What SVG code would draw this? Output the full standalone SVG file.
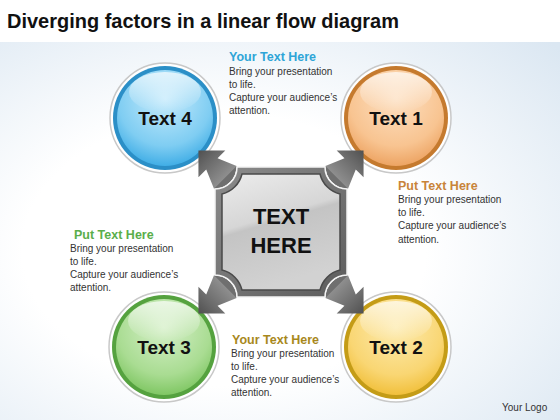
<svg xmlns="http://www.w3.org/2000/svg" width="560" height="420" viewBox="0 0 560 420">
<defs>
<radialGradient id="bg" cx="0.4" cy="0.55" r="0.8">
<stop offset="0.45" stop-color="#ffffff"/>
<stop offset="1" stop-color="#dbe7f2"/>
</radialGradient>
<linearGradient id="arrowG" x1="0" y1="0" x2="1" y2="0">
<stop offset="0" stop-color="#8e8e8e"/>
<stop offset="0.6" stop-color="#6a6a6a"/>
<stop offset="1" stop-color="#505050"/>
</linearGradient>
<linearGradient id="frameG" x1="0" y1="0" x2="1" y2="1">
<stop offset="0" stop-color="#8c8c8c"/>
<stop offset="1" stop-color="#5c5c5c"/>
</linearGradient>
<linearGradient id="panelG" x1="0" y1="0" x2="0.3" y2="1">
<stop offset="0" stop-color="#ececec"/>
<stop offset="0.45" stop-color="#d6d6d6"/>
<stop offset="0.5" stop-color="#c4c4c4"/>
<stop offset="1" stop-color="#d2d2d2"/>
</linearGradient>
<radialGradient id="blueG" cx="0.5" cy="0.3" r="0.7">
<stop offset="0" stop-color="#c6ebfc"/>
<stop offset="0.7" stop-color="#7fcdf2"/>
<stop offset="1" stop-color="#41aee6"/>
</radialGradient>
<radialGradient id="orangeG" cx="0.5" cy="0.3" r="0.7">
<stop offset="0" stop-color="#fde0c2"/>
<stop offset="0.7" stop-color="#f8c491"/>
<stop offset="1" stop-color="#eda463"/>
</radialGradient>
<radialGradient id="greenG" cx="0.5" cy="0.3" r="0.7">
<stop offset="0" stop-color="#d6f0c9"/>
<stop offset="0.7" stop-color="#a9dc92"/>
<stop offset="1" stop-color="#80c764"/>
</radialGradient>
<radialGradient id="yellowG" cx="0.5" cy="0.3" r="0.7">
<stop offset="0" stop-color="#fdebb0"/>
<stop offset="0.7" stop-color="#f9d673"/>
<stop offset="1" stop-color="#f1c03c"/>
</radialGradient>
<linearGradient id="gloss" x1="0" y1="0" x2="0" y2="1">
<stop offset="0" stop-color="#ffffff" stop-opacity="0.7"/>
<stop offset="1" stop-color="#ffffff" stop-opacity="0"/>
</linearGradient>
<g id="arrow">
<path d="M0,0 L-16,16 A22.6,22.6 0 0 1 -16,-16 Z" fill="#6f6f6f"/>
<polygon points="-16,-16 3,-8 3,-19 22,0 3,19 3,8 -16,16" fill="url(#arrowG)"/>
</g>
</defs>
<style>
.title{font-family:"Liberation Sans",Arial,sans-serif;font-weight:bold;font-size:21px;fill:#111}
.lbl{font-family:"Liberation Sans",Arial,sans-serif;font-weight:bold;font-size:19px;fill:#111;text-anchor:middle}
.big{font-family:"Liberation Sans",Arial,sans-serif;font-weight:bold;font-size:22px;fill:#111;text-anchor:middle}
.head{font-family:"Liberation Sans",Arial,sans-serif;font-weight:bold;font-size:12.5px}
.body{font-family:"Liberation Sans",Arial,sans-serif;font-size:10px;fill:#333}
.rim{fill:#ffffff;stroke:#c8c8c8;stroke-width:1.5}
</style>
<rect x="0" y="0" width="560" height="420" fill="#ffffff"/>
<rect x="0" y="42" width="560" height="378" fill="url(#bg)"/>
<text class="title" x="7" y="28" textLength="392" lengthAdjust="spacingAndGlyphs">Diverging factors in a linear flow diagram</text>

<g id="node-text4">
<circle class="rim" cx="165" cy="118" r="55"/>
<circle cx="165" cy="118" r="52" fill="#2b8fc7"/>
<circle cx="165" cy="118" r="48" fill="url(#blueG)"/>
<ellipse cx="165" cy="92" rx="36" ry="20" fill="url(#gloss)"/>
<text class="lbl" x="165" y="125">Text 4</text>
</g>

<g id="node-text1">
<circle class="rim" cx="396" cy="118" r="55"/>
<circle cx="396" cy="118" r="52" fill="#c57a2e"/>
<circle cx="396" cy="118" r="48" fill="url(#orangeG)"/>
<ellipse cx="396" cy="92" rx="36" ry="20" fill="url(#gloss)"/>
<text class="lbl" x="396" y="125">Text 1</text>
</g>

<g id="node-text3">
<circle class="rim" cx="164" cy="347" r="55"/>
<circle cx="164" cy="347" r="52" fill="#55a23f"/>
<circle cx="164" cy="347" r="48" fill="url(#greenG)"/>
<ellipse cx="164" cy="321" rx="36" ry="20" fill="url(#gloss)"/>
<text class="lbl" x="164" y="354">Text 3</text>
</g>

<g id="node-text2">
<circle class="rim" cx="396" cy="347" r="55"/>
<circle cx="396" cy="347" r="52" fill="#c49c17"/>
<circle cx="396" cy="347" r="48" fill="url(#yellowG)"/>
<ellipse cx="396" cy="321" rx="36" ry="20" fill="url(#gloss)"/>
<text class="lbl" x="396" y="354">Text 2</text>
</g>

<g id="connectors">
<use href="#arrow" transform="translate(214,166) rotate(225)"/>
<use href="#arrow" transform="translate(348,166) rotate(-45)"/>
<use href="#arrow" transform="translate(348,298) rotate(45)"/>
<use href="#arrow" transform="translate(214,298) rotate(135)"/>
</g>

<g id="center">
<path d="M237,167 L325,167 A22,22 0 0 0 347,189 L347,275 A22,22 0 0 0 325,297 L237,297 A22,22 0 0 0 215,275 L215,189 A22,22 0 0 0 237,167 Z" fill="url(#frameG)" stroke="#f4f4f4" stroke-width="1.5"/>
<path d="M242,174 L320,174 A27,27 0 0 0 340,194 L340,270 A27,27 0 0 0 320,290 L242,290 A27,27 0 0 0 222,270 L222,194 A27,27 0 0 0 242,174 Z" fill="url(#panelG)" stroke="#4a4a4a" stroke-width="1.5"/>
<text class="big" x="281" y="224">TEXT</text>
<text class="big" x="281" y="253">HERE</text>
</g>

<g id="note-top">
<text class="head" x="229" y="61" fill="#2ea5d7">Your Text Here</text>
<text class="body" x="229" y="75">Bring your presentation</text>
<text class="body" x="229" y="88">to life.</text>
<text class="body" x="229" y="101">Capture your audience’s</text>
<text class="body" x="229" y="114">attention.</text>
</g>

<g id="note-right">
<text class="head" x="398" y="190" fill="#c8843a">Put Text Here</text>
<text class="body" x="398" y="203">Bring your presentation</text>
<text class="body" x="398" y="216">to life.</text>
<text class="body" x="398" y="229">Capture your audience’s</text>
<text class="body" x="398" y="243">attention.</text>
</g>

<g id="note-left">
<text class="head" x="74" y="239" fill="#5aae4a">Put Text Here</text>
<text class="body" x="70" y="252">Bring your presentation</text>
<text class="body" x="70" y="265">to life.</text>
<text class="body" x="70" y="278">Capture your audience’s</text>
<text class="body" x="70" y="291">attention.</text>
</g>

<g id="note-bottom">
<text class="head" x="232" y="344" fill="#a8881c">Your Text Here</text>
<text class="body" x="231" y="357">Bring your presentation</text>
<text class="body" x="231" y="370">to life.</text>
<text class="body" x="231" y="383">Capture your audience’s</text>
<text class="body" x="231" y="396">attention.</text>
</g>

<text class="body" x="502" y="411">Your Logo</text>
</svg>
